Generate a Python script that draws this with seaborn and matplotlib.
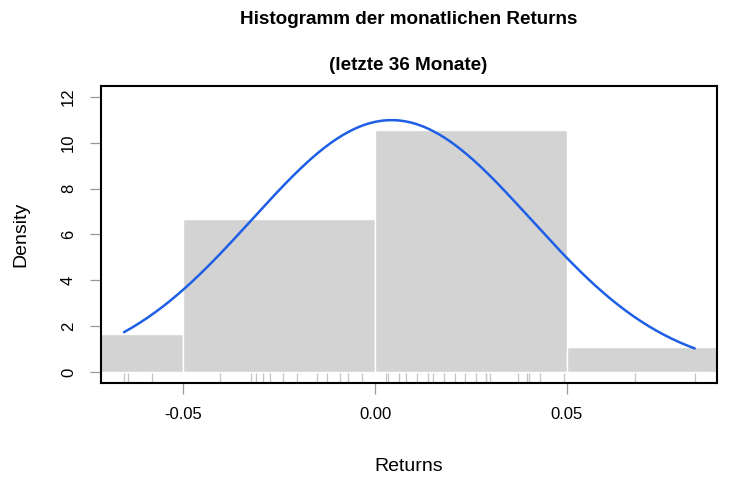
import numpy as np
import pandas as pd
import matplotlib
matplotlib.use("Agg")
import matplotlib.pyplot as plt
import seaborn as sns

# ---- data ----
returns = [
    -0.0654, -0.0643, -0.0581,
    -0.0404, -0.0323, -0.0310, -0.0292, -0.0273, -0.0240,
    -0.0203, -0.0151, -0.0125, -0.0091, -0.0070, -0.0034,
    0.0029, 0.0034, 0.0063, 0.0081, 0.0109, 0.0138, 0.0151,
    0.0180, 0.0208, 0.0234, 0.0263, 0.0289, 0.0290, 0.0299,
    0.0372, 0.0396, 0.0401, 0.0430, 0.0492,
    0.0677, 0.0833,
]
bin_edges = [-0.10, -0.05, 0.00, 0.05, 0.10]
curve_mean = 0.0043
curve_sd = 0.0363
x_ticks = [-0.05, 0.00, 0.05]
x_tick_labels = ["-0.05", "0.00", "0.05"]
y_ticks = [0, 2, 4, 6, 8, 10, 12]
title_line1 = "Histogramm der monatlichen Returns"
title_line2 = "(letzte 36 Monate)"

sns.set_theme(style="white")
plt.rcParams["font.family"] = ["Liberation Sans", "DejaVu Sans"]
plt.rcParams["text.color"] = "black"
plt.rcParams["axes.labelcolor"] = "black"

fig = plt.figure(figsize=(7.39, 4.93), dpi=100)
ax = fig.add_axes([0.1367, 0.2231, 0.8335, 0.6025])

df = pd.DataFrame({"ret": returns})
sns.histplot(data=df, x="ret", bins=bin_edges, stat="density",
             color="#d3d3d3", edgecolor="white", linewidth=1.0,
             alpha=1.0, ax=ax, zorder=1)

xs = np.linspace(min(returns), max(returns), 300)
ys = np.exp(-0.5 * ((xs - curve_mean) / curve_sd) ** 2) / (curve_sd * np.sqrt(2 * np.pi))
sns.lineplot(x=xs, y=ys, color="#1f5fe6", linewidth=1.8, ax=ax, zorder=3)

sns.rugplot(data=df, x="ret", height=0.034, color="#c4c4c4",
            linewidth=0.9, ax=ax, zorder=2)

ax.set_xlim(-0.0714, 0.0891)
ax.set_ylim(-0.48, 12.48)
ax.set_xticks(x_ticks)
ax.set_xticklabels(x_tick_labels)
ax.set_yticks(y_ticks)
ax.set_yticklabels([str(v) for v in y_ticks], rotation=90, va="center")

ax.tick_params(axis="both", which="major", direction="out", length=8,
               width=0.9, color="#999999", labelsize=12,
               labelcolor="black", bottom=True, left=True)
ax.tick_params(axis="x", pad=9)
ax.tick_params(axis="y", pad=10)

for s in ax.spines.values():
    s.set_visible(True)
    s.set_color("black")
    s.set_linewidth(1.5)

ax.set_xlabel("Returns", fontsize=14, labelpad=26, color="black")
ax.set_ylabel("Density", fontsize=14, labelpad=23, color="black")
ax.grid(False)

fig.text(0.553, 0.961, title_line1, ha="center", va="center",
         fontsize=13.6, fontweight="bold", color="black")
fig.text(0.553, 0.868, title_line2, ha="center", va="center",
         fontsize=13.6, fontweight="bold", color="black")

fig.savefig("out.png", dpi=100, facecolor="white")
